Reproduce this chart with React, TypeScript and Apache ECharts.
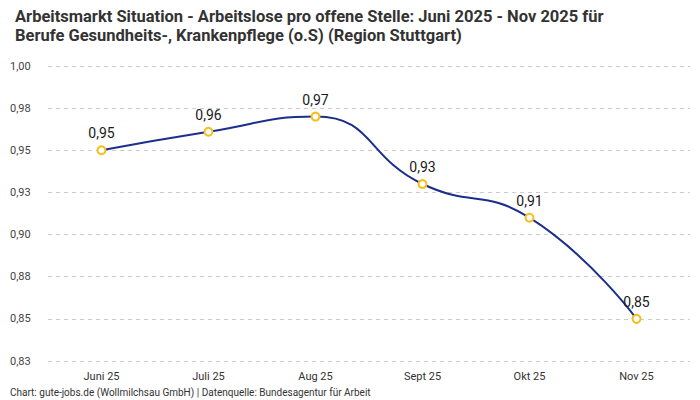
import React, { useEffect, useRef } from "react";
import * as echarts from "echarts";

const categories = ["Juni 25", "Juli 25", "Aug 25", "Sept 25", "Okt 25", "Nov 25"];
const values = [0.95, 0.961, 0.97, 0.93, 0.91, 0.85];
const titleText =
  "Arbeitsmarkt Situation - Arbeitslose pro offene Stelle: Juni 2025 - Nov 2025 für\nBerufe Gesundheits-, Krankenpflege (o.S) (Region Stuttgart)";
const footerText = "Chart: gute-jobs.de (Wollmilchsau GmbH) | Datenquelle: Bundesagentur für Arbeit";

const fmt = (v: number) => (Math.round(v * 100 + 1e-6) / 100).toFixed(2).replace(".", ",");
const FONT = "Roboto, 'Noto Sans', sans-serif";

export default function App() {
  const ref = useRef<HTMLDivElement>(null);
  useEffect(() => {
    if (!ref.current) return;
    const chart = echarts.init(ref.current, null, { renderer: "svg" });
    chart.setOption({
      animation: false,
      textStyle: { fontFamily: FONT },
      title: {
        text: titleText,
        left: 10,
        top: 2,
        textStyle: { fontSize: 16.5, fontWeight: "bold", color: "#333", lineHeight: 19, fontFamily: FONT },
      },
      graphic: [
        {
          type: "text",
          left: 10,
          top: 387,
          style: { text: footerText, fontSize: 10, fill: "#333", fontFamily: FONT },
        },
      ],
      grid: { left: 48, right: 10, top: 66, bottom: 39 },
      xAxis: {
        type: "category",
        data: categories,
        boundaryGap: true,
        axisLine: { show: false },
        axisTick: { show: false },
        axisLabel: { color: "#333", fontSize: 11, margin: 10 },
      },
      yAxis: {
        type: "value",
        min: 0.825,
        max: 1.0,
        interval: 0.025,
        axisLine: { show: false },
        axisTick: { show: false },
        axisLabel: {
          color: "#444",
          fontSize: 11,
          align: "left",
          margin: 38,
          formatter: (v: number) => fmt(v),
        },
        splitLine: { lineStyle: { color: "#ccc", type: [4, 4] } },
      },
      series: [
        {
          type: "line",
          data: values,
          smooth: 0.5,
          symbol: "circle",
          symbolSize: 8,
          lineStyle: { color: "#1c2e8c", width: 2 },
          itemStyle: { color: "#fff", borderColor: "#f5be1a", borderWidth: 2 },
          label: {
            show: true,
            position: "top",
            distance: 5,
            fontSize: 14,
            color: "#1a1a1a",
            formatter: (p: any) => fmt(p.value),
          },
        },
      ],
    });
    return () => chart.dispose();
  }, []);
  return <div ref={ref} style={{ width: 700, height: 400, position: "absolute", left: 0, top: 0 }} />;
}
